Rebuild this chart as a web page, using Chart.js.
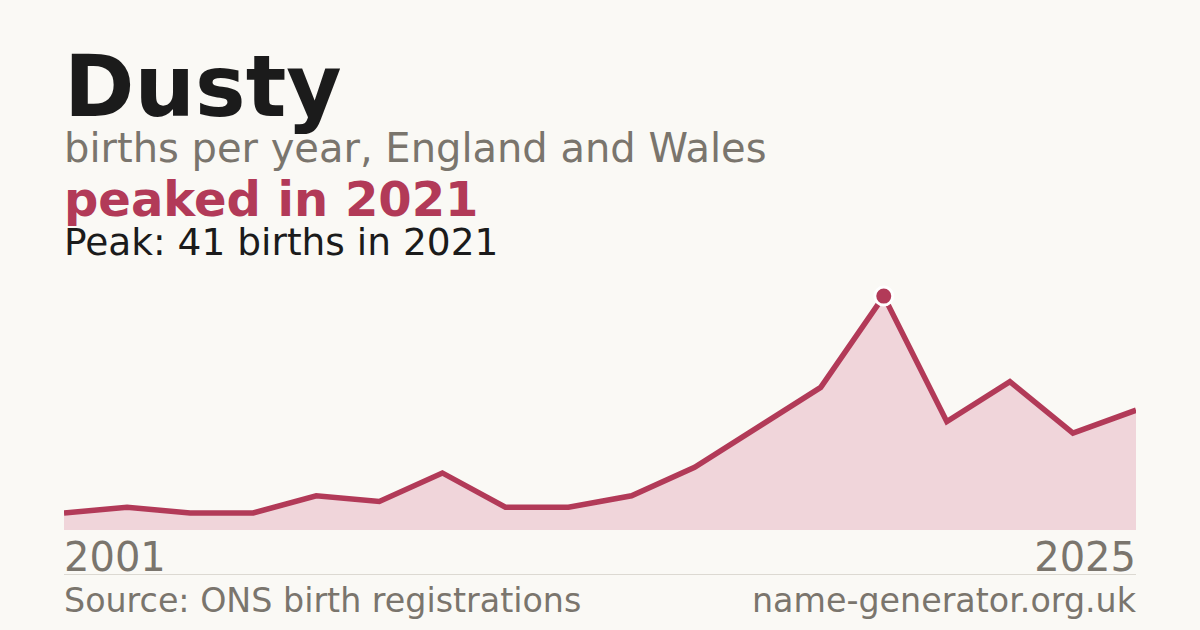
<!DOCTYPE html>
<html>
<head>
<meta charset="utf-8">
<script src="https://cdn.jsdelivr.net/npm/chart.js@4"></script>
<style>
    html, body { margin: 0; padding: 0; }
    body {
        width: 1200px;
        height: 630px;
        background: #FAF9F5;
        font-family: "DejaVu Sans", sans-serif;
        position: relative;
        overflow: hidden;
    }
    .txt { position: absolute; left: 64px; white-space: nowrap; line-height: 1; }
    #title { top: 44px; font-size: 85px; font-weight: bold; color: #1B1B1B; }
    #subtitle { top: 128px; font-size: 40px; color: #7A756D; }
    #headline { top: 175px; font-size: 48px; font-weight: bold; color: #B23A58; }
    #peak { top: 224px; font-size: 37.5px; color: #1B1B1B; }
    #chartBox { position: absolute; left: 64px; top: 279px; width: 1072px; height: 251px; }
    .axis { position: absolute; top: 537px; font-size: 40px; color: #7A756D; line-height: 1; }
    #xFirst { left: 64px; }
    #xLast { right: 64px; }
    #rule { position: absolute; left: 64px; width: 1072px; top: 574px; height: 1px; background: #DCD9D2; }
    .foot { position: absolute; top: 584px; font-size: 33.3px; color: #7A756D; line-height: 1; }
    #source { left: 64px; }
    #site { right: 64px; }
</style>
</head>
<body>
<div class="txt" id="title">Dusty</div>
<div class="txt" id="subtitle">births per year, England and Wales</div>
<div class="txt" id="headline">peaked in 2021</div>
<div class="txt" id="peak">Peak: 41 births in 2021</div>
<div id="chartBox"><canvas id="chart"></canvas></div>
<div class="axis" id="xFirst">2001</div>
<div class="axis" id="xLast">2025</div>
<div id="rule"></div>
<div class="foot" id="source">Source: ONS birth registrations</div>
<div class="foot" id="site">name-generator.org.uk</div>
<script>
    // years with published counts (small counts are suppressed, so some years are missing)
    const years = [2001, 2003, 2004, 2005, 2007, 2008, 2010, 2012, 2013, 2015, 2017, 2019, 2020, 2021, 2022, 2023, 2024, 2025];
    const births = [3, 4, 3, 3, 6, 5, 10, 4, 4, 6, 11, 18, 25, 41, 19, 26, 17, 21];
    const yMax = 44;

    const lineColor = "#B23A58";
    const peakIndex = births.indexOf(Math.max(...births));

    new Chart(document.getElementById("chart").getContext("2d"), {
        type: "line",
        data: {
            labels: years,
            datasets: [{
                data: births,
                borderColor: lineColor,
                backgroundColor: "#F0D5DA",
                borderWidth: 5.5,
                fill: "origin",
                tension: 0,
                clip: false,
                borderJoinStyle: "miter",
                pointRadius: (ctx) => ctx.dataIndex === peakIndex ? 9 : 0,
                pointBackgroundColor: lineColor,
                pointBorderColor: "#FFFFFF",
                pointBorderWidth: 3
            }]
        },
        options: {
            responsive: true,
            maintainAspectRatio: false,
            animation: false,
            layout: { padding: 0 },
            plugins: {
                legend: { display: false },
                tooltip: { enabled: false }
            },
            scales: {
                x: { display: false, offset: false },
                y: { display: false, min: 0, max: yMax }
            }
        }
    });
</script>
</body>
</html>
